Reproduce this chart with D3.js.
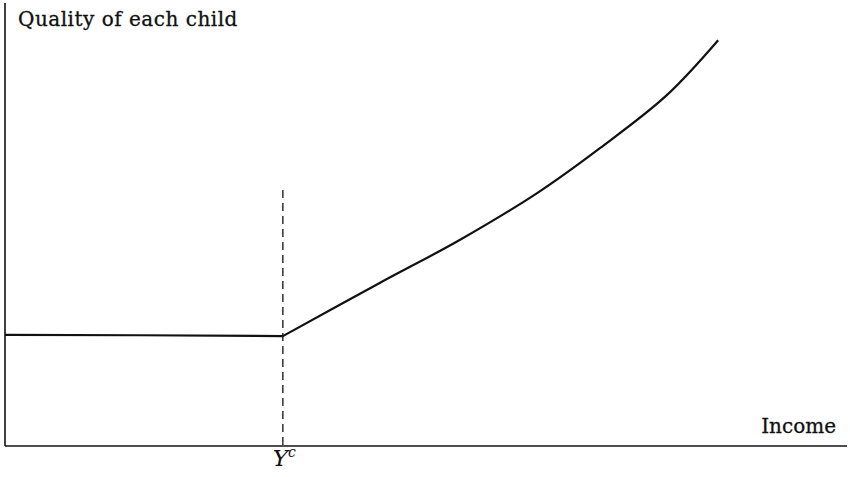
<!DOCTYPE html>
<html>
<head>
<meta charset="utf-8">
<script src="https://cdn.jsdelivr.net/npm/d3@7"></script>
<style>
  body { margin: 0; background: #fff; }
  svg text { font-family: "DejaVu Serif", "Liberation Serif", serif; fill: #111; }
</style>
</head>
<body>
<svg id="chart"></svg>
<script>
// income / quality in arbitrary units (0..100)
var flatIncome = [0, 16, 33];
var flatQuality = [25.1, 25.0, 24.8];
var riseIncome = [33, 44.5, 54, 63.2, 70.7, 78.6, 84.7];
var riseQuality = [24.8, 36.8, 46.5, 57.1, 67.3, 79.2, 91.6];
var cutoffIncome = 33;
var cutoffTop = 57.8;
var axisLabels = {y: "Quality of each child", x: "Income"};

var width = 850, height = 477;
var svg = d3.select("#chart").attr("width", width).attr("height", height);

var x = d3.scaleLinear().domain([0, 100]).range([5, 847]);
var y = d3.scaleLinear().domain([0, 100]).range([446, 3]);

// axes, drawn as plain lines (no ticks in the original)
svg.append("line")
    .attr("x1", x(0)).attr("x2", x(0))
    .attr("y1", y(0)).attr("y2", y(100))
    .attr("stroke", "#111").attr("stroke-width", 1.6);
svg.append("line")
    .attr("x1", x(0)).attr("x2", x(100))
    .attr("y1", y(0)).attr("y2", y(0))
    .attr("stroke", "#111").attr("stroke-width", 1.6);

// dashed cutoff at Y^c
svg.append("line")
    .attr("x1", x(cutoffIncome)).attr("x2", x(cutoffIncome))
    .attr("y1", y(cutoffTop)).attr("y2", y(0))
    .attr("stroke", "#111").attr("stroke-width", 1.3)
    .attr("stroke-dasharray", "8,5");

var line = d3.line()
    .x(function(d) { return x(d[0]); })
    .y(function(d) { return y(d[1]); });

svg.append("path")
    .datum(d3.zip(flatIncome, flatQuality))
    .attr("d", line.curve(d3.curveLinear))
    .attr("fill", "none").attr("stroke", "#111").attr("stroke-width", 2.2);

svg.append("path")
    .datum(d3.zip(riseIncome, riseQuality))
    .attr("d", line.curve(d3.curveCatmullRom))
    .attr("fill", "none").attr("stroke", "#111").attr("stroke-width", 2.2);

// labels
svg.append("text")
    .attr("x", 18).attr("y", 26)
    .attr("font-size", 20)
    .attr("letter-spacing", 0.5)
    .attr("stroke", "#111").attr("stroke-width", 0.3)
    .text(axisLabels.y);

svg.append("text")
    .attr("x", 836).attr("y", 433)
    .attr("text-anchor", "end")
    .attr("font-size", 20)
    .attr("stroke", "#111").attr("stroke-width", 0.3)
    .text(axisLabels.x);

var yc = svg.append("text")
    .attr("x", x(cutoffIncome) - 10).attr("y", 466)
    .attr("font-size", 23)
    .attr("font-family", "Liberation Serif")
    .attr("font-style", "italic");
yc.append("tspan").text("Y");
yc.append("tspan").attr("dy", -9).attr("font-size", 14).text("c");
</script>
</body>
</html>
